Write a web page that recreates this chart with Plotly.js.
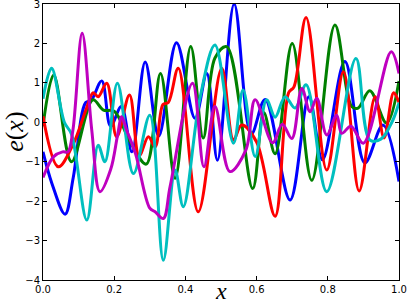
<!DOCTYPE html>
<html><head><meta charset="utf-8">
<script src="https://cdn.plot.ly/plotly-3.0.1.min.js"></script>
<style>html,body{margin:0;padding:0;background:#fff}#plot{width:407px;height:305px}</style>
</head><body><div id="plot"></div>
<script>
// Blue series
const blueX = [0, 0.025, 0.062, 0.085, 0.12, 0.135, 0.165, 0.19, 0.22, 0.25, 0.287, 0.325, 0.375, 0.427, 0.46, 0.49, 0.537, 0.585, 0.624, 0.694, 0.747, 0.785, 0.848, 0.904, 0.955, 1.0];
const blueY = [-0.75, -1.55, -2.33, -1.4, 0.5, 0.55, 1.05, -0.1, 0.4, -0.75, 1.53, -0.35, 2.02, 0.1, 1.24, -0.96, 3.0, -0.3, 0.58, -1.97, 0.65, -0.95, 1.54, -1.03, -0.07, -1.5];
// Green series
const greenX = [0, 0.03, 0.08, 0.14, 0.17, 0.2, 0.245, 0.29, 0.33, 0.371, 0.415, 0.45, 0.483, 0.516, 0.589, 0.62, 0.652, 0.70, 0.755, 0.82, 0.867, 0.885, 0.918, 0.965, 1.0];
const greenY = [-0.1, 1.2, -1.0, 0.57, 0.31, 0.28, -0.5, -1.06, 1.24, -1.42, 1.92, -0.4, 1.63, 1.92, -1.68, 0.25, -0.8, 2.0, -1.47, 2.47, 0.4, 0.36, 0.8, -0.02, 1.05];
// Red series
const redX = [0, 0.043, 0.085, 0.12, 0.141, 0.155, 0.179, 0.207, 0.243, 0.27, 0.296, 0.315, 0.337, 0.352, 0.38, 0.436, 0.502, 0.535, 0.558, 0.6, 0.652, 0.69, 0.705, 0.739, 0.797, 0.844, 0.888, 0.933, 0.958, 0.985, 1.0];
const redY = [0.15, -1.13, -0.55, 0.3, 0.75, 0.65, 0.99, -0.37, 0.69, -0.85, -0.37, -0.62, 0.45, 0.5, 1.37, -2.27, 1.37, -0.45, -0.07, -0.5, -2.38, 0.75, 0.9, 2.66, -1.21, 1.28, -1.74, 0.65, -0.4, 0.75, 0.5];
// Cyan series
const cyanX = [0, 0.024, 0.06, 0.08, 0.123, 0.155, 0.174, 0.209, 0.254, 0.30, 0.338, 0.371, 0.394, 0.44, 0.483, 0.535, 0.562, 0.596, 0.628, 0.652, 0.68, 0.708, 0.739, 0.797, 0.879, 0.918, 0.95, 0.98, 1.0];
const cyanY = [0.6, 1.37, 0.0, -0.3, -2.48, -0.58, -1.0, 0.99, -1.3, 0.18, -3.5, -1.21, -2.14, 0.57, 1.96, -0.53, 0.82, -0.87, 0.57, 0.13, 0.65, 0.36, 0.95, -1.76, 1.62, -0.45, -0.42, 0.0, 0.5];
// Magenta series
const magX = [0, 0.03, 0.055, 0.07, 0.084, 0.11, 0.137, 0.16, 0.19, 0.21, 0.221, 0.235, 0.26, 0.30, 0.315, 0.338, 0.357, 0.42, 0.452, 0.483, 0.525, 0.57, 0.596, 0.645, 0.672, 0.699, 0.727, 0.75, 0.769, 0.797, 0.825, 0.839, 0.865, 0.9, 0.978, 1.0];
const magY = [-1.4, -0.87, -0.75, -0.75, -0.2, 2.26, -0.2, -1.76, -1.2, -0.3, 0.14, -0.2, -0.8, -2.18, -2.27, -2.44, -1.63, 0.99, -1.13, 0.4, -1.25, -0.7, 0.57, -0.52, -0.05, -0.41, 0.86, 0.27, 0.61, -0.32, 0.18, -0.28, -0.1, -0.53, 1.79, 1.24];

const series = [
  {x: blueX, y: blueY, c: '#0000ff'},
  {x: greenX, y: greenY, c: '#008000'},
  {x: redX, y: redY, c: '#ff0000'},
  {x: cyanX, y: cyanY, c: '#00bfbf'},
  {x: magX, y: magY, c: '#bf00bf'}
];
const traces = series.map(s => ({
  x: s.x, y: s.y, type: 'scatter', mode: 'lines',
  line: {color: s.c, width: 3, shape: 'spline', smoothing: 1.0},
  hoverinfo: 'none', showlegend: false
}));
const axisCommon = {
  showgrid: false, zeroline: false, showline: true, linecolor: '#000', linewidth: 1,
  ticks: 'inside', ticklen: 4, tickwidth: 1, tickcolor: '#000', mirror: 'ticks',
  ticklabeloverflow: 'allow',
  tickfont: {family: 'DejaVu Sans', size: 10, color: '#000'}
};
const layout = {
  width: 407, height: 305,
  margin: {l: 43, r: 8, t: 4, b: 25},
  paper_bgcolor: '#fff', plot_bgcolor: '#fff',
  xaxis: Object.assign({}, axisCommon, {range: [0, 1], dtick: 0.2, tick0: 0, tickformat: '.1f'}),
  yaxis: Object.assign({}, axisCommon, {range: [-4, 3], dtick: 1, tick0: 0}),
  annotations: [
    {text: '<i>x</i>', xref: 'paper', yref: 'paper', x: 0.5, y: -0.0906, xanchor: 'center', yanchor: 'bottom',
     showarrow: false, borderpad: 0, font: {family: 'Liberation Serif', size: 24, color: '#000'}},
    {text: '<i>e</i>(<i>x</i>)', xref: 'paper', yref: 'paper', x: -0.08, y: 0.535, xanchor: 'center', yanchor: 'middle',
     textangle: -90, showarrow: false, font: {family: 'Liberation Serif', size: 26, color: '#000'}}
  ]
};
Plotly.newPlot('plot', traces, layout, {displayModeBar: false, staticPlot: true});
</script></body></html>
